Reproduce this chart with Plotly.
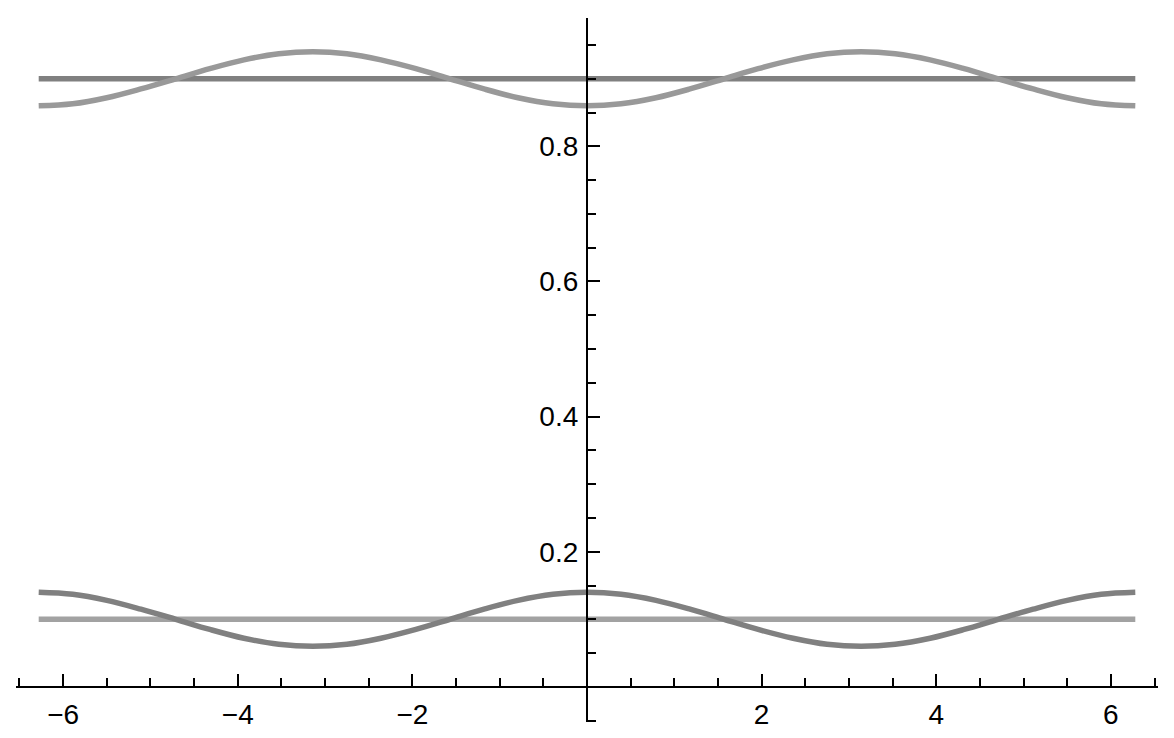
import plotly.graph_objects as go

# sample positions along x (-2pi .. 2pi)
x_pts = [-6.28, -5.89, -5.50, -5.11, -4.71, -4.32, -3.93, -3.53, -3.14,
         -2.75, -2.36, -1.96, -1.57, -1.18, -0.79, -0.39, 0.0,
         0.39, 0.79, 1.18, 1.57, 1.96, 2.36, 2.75, 3.14,
         3.53, 3.93, 4.32, 4.71, 5.11, 5.50, 5.89, 6.28]

# lower wave (dark) and upper wave (light)
low_wave = [0.140, 0.137, 0.128, 0.115, 0.100, 0.085, 0.072, 0.063, 0.060,
            0.063, 0.072, 0.085, 0.100, 0.115, 0.128, 0.137, 0.140,
            0.137, 0.128, 0.115, 0.100, 0.085, 0.072, 0.063, 0.060,
            0.063, 0.072, 0.085, 0.100, 0.115, 0.128, 0.137, 0.140]
high_wave = [0.860, 0.863, 0.872, 0.885, 0.900, 0.915, 0.928, 0.937, 0.940,
             0.937, 0.928, 0.915, 0.900, 0.885, 0.872, 0.863, 0.860,
             0.863, 0.872, 0.885, 0.900, 0.915, 0.928, 0.937, 0.940,
             0.937, 0.928, 0.915, 0.900, 0.885, 0.872, 0.863, 0.860]

# flat levels
flat_x = [-6.28, 6.28]
high_flat = [0.9, 0.9]
low_flat = [0.1, 0.1]

x_tickvals = [-6, -4, -2, 2, 4, 6]
x_ticktext = ["\u22126", "\u22124", "\u22122", "2", "4", "6"]
y_tickvals = [0.2, 0.4, 0.6, 0.8]
y_ticktext = ["0.2", "0.4", "0.6", "0.8"]

dark = "rgb(128,128,128)"
light = "rgb(153,153,153)"
lighter = "rgb(162,162,162)"

fig = go.Figure()
fig.add_trace(go.Scatter(x=flat_x, y=high_flat, mode="lines",
                         line=dict(color=dark, width=5.5)))
fig.add_trace(go.Scatter(x=flat_x, y=low_flat, mode="lines",
                         line=dict(color=lighter, width=5.5)))
fig.add_trace(go.Scatter(x=x_pts, y=high_wave, mode="lines",
                         line=dict(color=light, width=5.5, shape="spline")))
fig.add_trace(go.Scatter(x=x_pts, y=low_wave, mode="lines",
                         line=dict(color=dark, width=5.5, shape="spline")))

y_range = [-0.052, 0.99]
fig.update_layout(
    width=1174, height=738,
    margin=dict(l=8, r=24, t=10, b=24),
    paper_bgcolor="white", plot_bgcolor="white",
    showlegend=False,
    font=dict(family="Liberation Sans, Arial", size=28, color="black"),
    xaxis=dict(
        range=[-6.54, 6.54], anchor="free",
        position=(0 - y_range[0]) / (y_range[1] - y_range[0]),
        showgrid=False, zeroline=False,
        showline=True, linecolor="black", linewidth=2.2,
        tickmode="array", tickvals=x_tickvals, ticktext=x_ticktext,
        ticks="inside", ticklen=12, tickwidth=2.2, tickcolor="black",
        ticklabelstandoff=2,
        minor=dict(tickmode="linear", tick0=0, dtick=0.5, ticks="inside",
                   ticklen=8, tickwidth=2.2, tickcolor="black"),
    ),
    yaxis=dict(
        range=y_range, anchor="free", position=0.5,
        showgrid=False, zeroline=False,
        showline=True, linecolor="black", linewidth=2.2,
        tickmode="array", tickvals=y_tickvals, ticktext=y_ticktext,
        ticks="inside", ticklen=12, tickwidth=2.2, tickcolor="black",
        ticklabelstandoff=2,
        minor=dict(tickmode="linear", tick0=0, dtick=0.05, ticks="inside",
                   ticklen=8, tickwidth=2.2, tickcolor="black"),
    ),
)

fig.write_html("out.html")
